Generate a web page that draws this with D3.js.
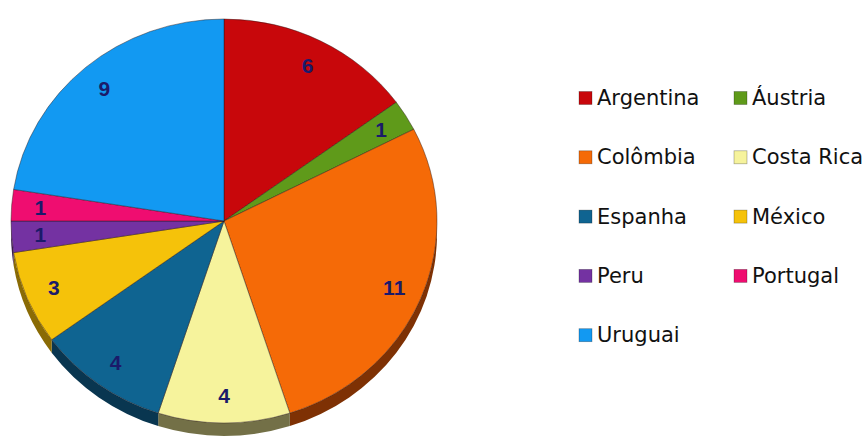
<!DOCTYPE html>
<html>
<head>
<meta charset="utf-8">
<script src="https://cdn.jsdelivr.net/npm/d3@7"></script>
<style>
  body { margin: 0; background: #fff; }
  svg { display: block; }
</style>
</head>
<body>
<svg id="chart" width="868" height="437"></svg>
<script>
const countries = ["Argentina", "Áustria", "Colômbia", "Costa Rica", "Espanha", "México", "Peru", "Portugal", "Uruguai"];
const counts = [6, 1, 11, 4, 4, 3, 1, 1, 9];
const topColors = ["#c8070b", "#5f9a1a", "#f56a07", "#f6f39c", "#0f6491", "#f5c20a", "#7432a2", "#ef0d70", "#1299f2"];
const sideColors = ["#6a0406", "#33520e", "#7e3104", "#737047", "#093650", "#8a6b05", "#3d1a55", "#7d0739", "#0a5386"];

const width = 868, height = 437;
const cx = 224, cy = 221, rx = 213, ry = 202, depth = 13;
const yScale = ry / rx;

const svg = d3.select("#chart");

const data = countries.map((name, i) => ({ name: name, value: counts[i], i: i }));

const pie = d3.pie().sort(null).value(d => d.value);
const arcs = pie(data);

const arc = d3.arc().innerRadius(0).outerRadius(rx);

// pie group squashed a bit vertically
const g = svg.append("g")
  .attr("transform", `translate(${cx},${cy}) scale(1,${yScale})`);

// side rim, only the part facing the viewer (lower half)
const d0 = depth / yScale;
function sidePath(a) {
  const s = Math.max(a.startAngle, Math.PI / 2);
  const e = Math.min(a.endAngle, Math.PI * 1.5);
  if (s >= e) return null;
  const p = d3.path();
  p.moveTo(rx * Math.sin(s), -rx * Math.cos(s));
  p.arc(0, 0, rx, s - Math.PI / 2, e - Math.PI / 2);
  p.lineTo(rx * Math.sin(e), -rx * Math.cos(e) + d0);
  p.arc(0, d0, rx, e - Math.PI / 2, s - Math.PI / 2, true);
  p.closePath();
  return p.toString();
}

g.append("g")
  .selectAll("path")
  .data(arcs.filter(a => sidePath(a)))
  .enter()
  .append("path")
  .attr("d", sidePath)
  .attr("fill", d => sideColors[d.data.i]);

g.append("g")
  .selectAll("path")
  .data(arcs)
  .enter()
  .append("path")
  .attr("d", arc)
  .attr("fill", d => topColors[d.data.i])
  .attr("stroke", "rgba(40,20,20,0.55)")
  .attr("stroke-width", 0.8)
  .attr("vector-effect", "non-scaling-stroke");

// value labels
const labelArc = d3.arc().innerRadius(rx * 0.865).outerRadius(rx * 0.865);
svg.append("g")
  .selectAll("text")
  .data(arcs)
  .enter()
  .append("text")
  .attr("x", d => cx + labelArc.centroid(d)[0])
  .attr("y", d => cy + labelArc.centroid(d)[1] * yScale)
  .attr("text-anchor", "middle")
  .attr("dominant-baseline", "central")
  .attr("font-family", "'Liberation Sans', Arial, sans-serif")
  .attr("font-weight", "bold")
  .attr("font-size", 21)
  .attr("fill", "#1b1a6a")
  .text(d => d.data.value);

// legend, two columns
const legend = svg.append("g")
  .selectAll("g")
  .data(data)
  .enter()
  .append("g")
  .attr("transform", (d, i) => `translate(${i % 2 === 0 ? 579 : 734},${98 + Math.floor(i / 2) * 59.3})`);

legend.append("rect")
  .attr("x", 0)
  .attr("y", -6.5)
  .attr("width", 13)
  .attr("height", 13)
  .attr("fill", d => topColors[d.i])
  .attr("stroke", "rgba(0,0,0,0.35)")
  .attr("stroke-width", 0.7);

legend.append("text")
  .attr("x", 18)
  .attr("y", 0)
  .attr("dominant-baseline", "central")
  .attr("font-family", "'DejaVu Sans', sans-serif")
  .attr("font-size", 21)
  .attr("fill", "#111")
  .text(d => d.name);
</script>
</body>
</html>
